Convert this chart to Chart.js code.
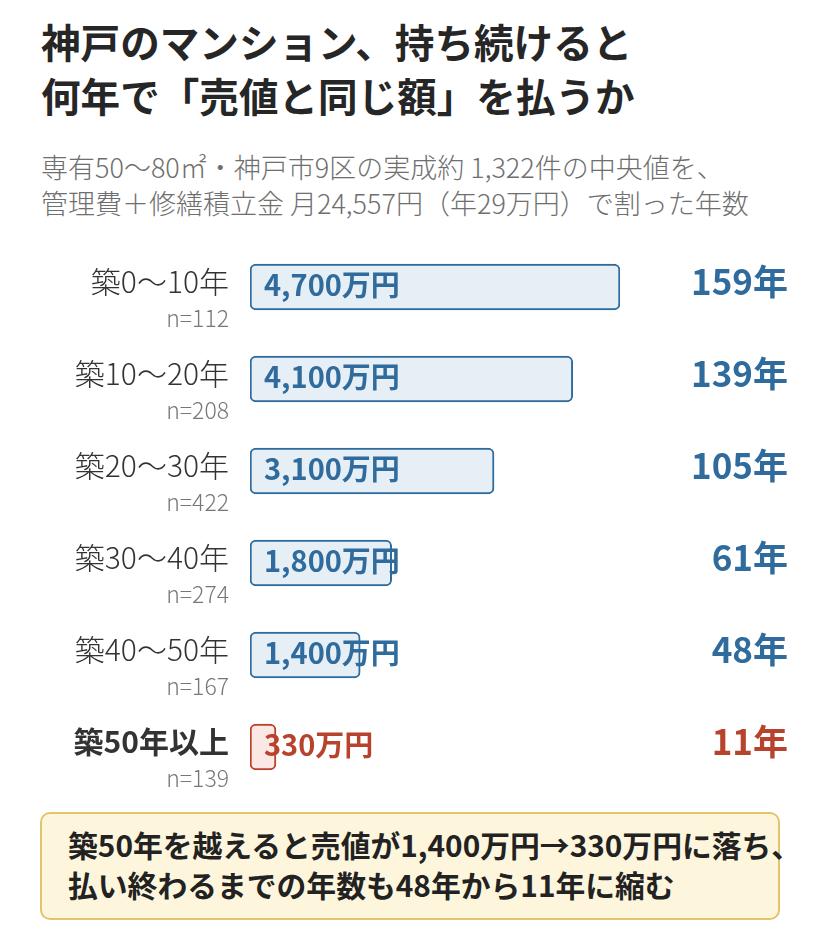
<!DOCTYPE html>
<html lang="ja">
<head>
<meta charset="utf-8">
<script src="https://cdn.jsdelivr.net/npm/chart.js@4/dist/chart.umd.min.js"></script>
<style>
  body { margin: 0; width: 820px; height: 952px; background: #fff; font-family: "Noto Sans CJK JP", "Noto Sans", sans-serif; position: relative; overflow: hidden; }
  h1 { position: absolute; left: 41px; top: 14px; margin: 0; font-size: 39.6px; line-height: 54px; font-weight: 700; color: #262626; white-space: nowrap; }
  .sub { position: absolute; left: 41px; top: 149px; margin: 0; font-size: 27px; line-height: 36px; font-weight: 300; color: #6f6f6f; white-space: nowrap; }
  #wrap { position: absolute; left: 0; top: 241px; width: 820px; height: 552px; }
  .note { position: absolute; left: 40px; top: 812px; width: 736px; height: 104px; border: 2px solid #e2c56b; border-radius: 10px; background: #fdf6dd; }
  .note p { margin: 0; position: absolute; left: 26px; top: 10px; font-size: 29.8px; line-height: 40px; font-weight: 700; color: #222; white-space: nowrap; }
</style>
</head>
<body>
<h1>神戸のマンション、持ち続けると<br>何年で「売値と同じ額」を払うか</h1>
<p class="sub">専有50〜80㎡・神戸市9区の実成約 1,322件の中央値を、<br>管理費＋修繕積立金 月24,557円（年29万円）で割った年数</p>
<div id="wrap"><canvas id="chart"></canvas></div>
<div class="note"><p>築50年を越えると売値が1,400万円→330万円に落ち、<br>払い終わるまでの年数も48年から11年に縮む</p></div>
<script>
// 築年数帯ごとの中央値（万円）と年数
const categories = ['築0〜10年', '築10〜20年', '築20〜30年', '築30〜40年', '築40〜50年', '築50年以上'];
const counts = [112, 208, 422, 274, 167, 139];
const prices = [4700, 4100, 3100, 1800, 1400, 330];
const years = [159, 139, 105, 61, 48, 11];

const blue = '#2f6b9c';
const red = '#b8432d';
const isLast = i => i === categories.length - 1;

const labelPlugin = {
    id: 'rowLabels',
    afterDatasetsDraw(chart) {
        const ctx = chart.ctx;
        const yScale = chart.scales.y;
        const xScale = chart.scales.x;
        const meta = chart.getDatasetMeta(0);
        ctx.save();
        ctx.textBaseline = 'middle';
        categories.forEach((cat, i) => {
            const y = yScale.getPixelForValue(i);
            // left label
            ctx.textAlign = 'right';
            ctx.fillStyle = '#333';
            ctx.font = (isLast(i) ? '700 ' : '300 ') + '30px "Noto Sans CJK JP"';
            ctx.fillText(cat, 229, y - 5);
            ctx.fillStyle = '#777';
            ctx.font = '300 23px "Noto Sans CJK JP"';
            ctx.fillText('n=' + counts[i], 229, y + 31);
            // value label inside bar
            const bar = meta.data[i];
            ctx.textAlign = 'left';
            ctx.fillStyle = isLast(i) ? red : blue;
            ctx.font = '700 29px "Noto Sans CJK JP"';
            ctx.fillText(prices[i].toLocaleString('en-US') + '万円', xScale.getPixelForValue(0) + 14, bar.y - 2);
            // years on the right
            ctx.textAlign = 'right';
            ctx.font = '700 35px "Noto Sans CJK JP"';
            ctx.fillText(years[i] + '年', 788, y - 5);
        });
        ctx.restore();
    }
};

new Chart(document.getElementById('chart'), {
    type: 'bar',
    data: {
        labels: categories,
        datasets: [{
            data: prices,
            backgroundColor: prices.map((v, i) => isLast(i) ? '#fbe8e4' : '#e6eef6'),
            borderColor: prices.map((v, i) => isLast(i) ? red : blue),
            borderWidth: 2,
            borderRadius: 6,
            borderSkipped: false,
            barThickness: 46
        }]
    },
    options: {
        indexAxis: 'y',
        responsive: true,
        maintainAspectRatio: false,
        animation: false,
        layout: { padding: { left: 250, right: 200, top: 0, bottom: 0 } },
        plugins: { legend: { display: false }, tooltip: { enabled: false } },
        scales: {
            x: { min: 0, max: 4700, display: false },
            y: { display: false, grid: { display: false } }
        }
    },
    plugins: [labelPlugin]
});
</script>
</body>
</html>
